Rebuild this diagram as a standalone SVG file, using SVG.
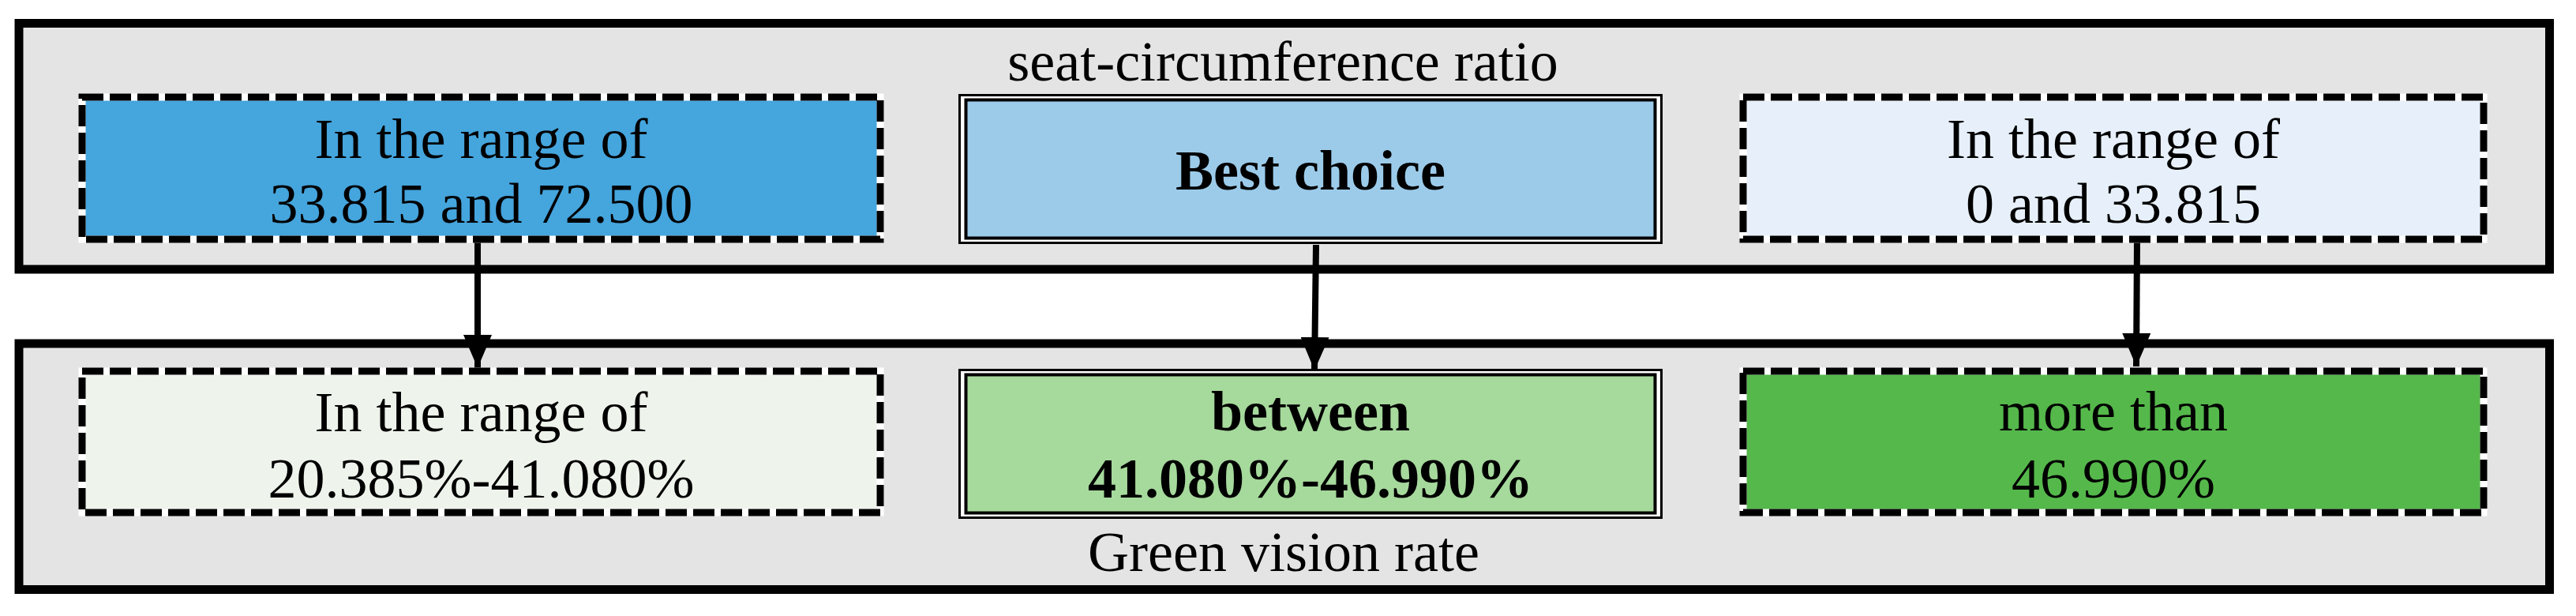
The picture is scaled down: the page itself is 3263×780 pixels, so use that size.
<svg xmlns="http://www.w3.org/2000/svg" width="3263" height="780" viewBox="0 0 3263 780">
  <defs>
    <style>
      .panel { fill: #e4e4e4; stroke: #000; stroke-width: 11; }
      .under { stroke: #fff; stroke-width: 9; }
      .dash { fill: none; stroke: #000; stroke-width: 9; stroke-dasharray: 27 8; }
      .dbl-out { fill: none; stroke: #000; stroke-width: 3; }
      .dbl-in { fill: none; stroke: #000; stroke-width: 4; }
      .t { font-family: "Liberation Serif", "Times New Roman", serif; font-size: 72px; fill: #000; text-anchor: middle; }
      .b { font-weight: bold; }
      .conn { stroke: #000; stroke-width: 8; fill: none; }
    </style>
    <marker id="arrow" markerUnits="userSpaceOnUse" markerWidth="42" markerHeight="36" refX="42" refY="18" orient="auto" viewBox="0 0 42 36">
      <path d="M0,0 L42,18 L0,36 z" fill="#000"/>
    </marker>
  </defs>

  <rect width="3263" height="780" fill="#ffffff"/>

  <g id="panel-seat">
    <rect class="panel" x="24" y="29.5" width="3205.5" height="311.5"/>
    <text class="t" x="1625" y="102">seat-circumference ratio</text>
  </g>

  <g id="panel-green">
    <rect class="panel" x="24" y="435" width="3205.5" height="311.5"/>
    <text class="t" x="1626" y="723">Green vision rate</text>
  </g>

  <g id="connectors">
    <line class="conn" x1="605" y1="307" x2="605" y2="466" marker-end="url(#arrow)"/>
    <line class="conn" x1="1667" y1="310" x2="1665" y2="469" stroke-width="6" marker-end="url(#arrow)"/>
    <line class="conn" x1="2707" y1="305" x2="2706" y2="464" marker-end="url(#arrow)"/>
  </g>

  <g id="seat-high">
    <rect x="104" y="123" width="1011" height="180" fill="#45a5dd" class="under"/>
    <rect class="dash" x="104" y="123" width="1011" height="180"/>
    <text class="t" x="609.5" y="200">In the range of</text>
    <text class="t" x="609.5" y="282">33.815 and 72.500</text>
  </g>

  <g id="seat-best">
    <rect x="1215.5" y="120.5" width="889" height="187" fill="#ffffff"/>
    <rect x="1223.5" y="126.5" width="873" height="175" fill="#9ccbea"/>
    <rect class="dbl-out" x="1215.5" y="120.5" width="889" height="187"/>
    <rect class="dbl-in" x="1223.5" y="126.5" width="873" height="175"/>
    <text class="t b" x="1660" y="240">Best choice</text>
  </g>

  <g id="seat-low">
    <rect x="2208" y="123" width="938" height="180" fill="#e7f0fa" class="under"/>
    <rect class="dash" x="2208" y="123" width="938" height="180"/>
    <text class="t" x="2677" y="200">In the range of</text>
    <text class="t" x="2677" y="282">0 and 33.815</text>
  </g>

  <g id="green-low">
    <rect x="104" y="470" width="1011" height="179" fill="#eef4ec" class="under"/>
    <rect class="dash" x="104" y="470" width="1011" height="179"/>
    <text class="t" x="609.5" y="546">In the range of</text>
    <text class="t" x="609.5" y="630">20.385%-41.080%</text>
  </g>

  <g id="green-best">
    <rect x="1215.5" y="468.5" width="889" height="187" fill="#ffffff"/>
    <rect x="1223.5" y="474.5" width="873" height="175" fill="#a6d99c"/>
    <rect class="dbl-out" x="1215.5" y="468.5" width="889" height="187"/>
    <rect class="dbl-in" x="1223.5" y="474.5" width="873" height="175"/>
    <text class="t b" x="1660" y="545">between</text>
    <text class="t b" x="1660" y="630">41.080%-46.990%</text>
  </g>

  <g id="green-high">
    <rect x="2208" y="470" width="938" height="179" fill="#55b84b" class="under"/>
    <rect class="dash" x="2208" y="470" width="938" height="179"/>
    <text class="t" x="2677" y="545">more than</text>
    <text class="t" x="2677" y="630">46.990%</text>
  </g>
</svg>
